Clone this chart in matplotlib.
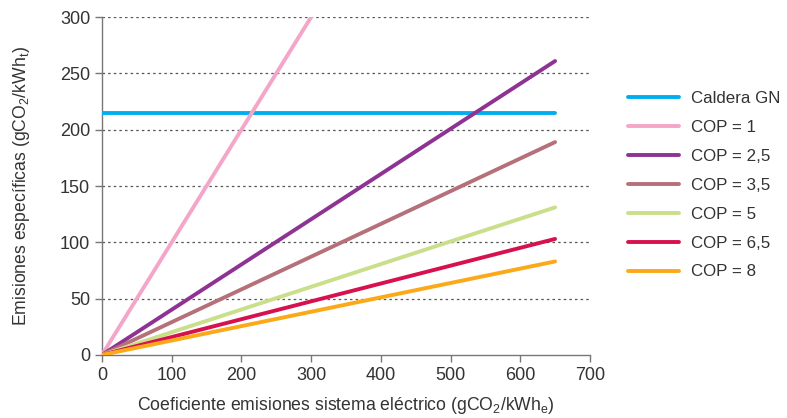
import matplotlib
matplotlib.use('Agg')
import matplotlib.pyplot as plt

# Data (x = electric grid emission factor)
x_start = 0
x_end = 650
caldera_gn = 215
series_labels = ['COP = 1', 'COP = 2,5', 'COP = 3,5', 'COP = 5', 'COP = 6,5', 'COP = 8']
series_x_end = [300, 650, 650, 650, 650, 650]
series_y_end = [300, 261, 189, 131, 103, 83]
series_colors = ['#F4A6C8', '#8E3393', '#B5707A', '#C9DF8A', '#D7104E', '#FBA919']

x_ticks = [0, 100, 200, 300, 400, 500, 600, 700]
y_ticks = [0, 50, 100, 150, 200, 250, 300]

plt.rcParams['font.family'] = ['Liberation Sans', 'DejaVu Sans']
plt.rcParams['mathtext.fontset'] = 'custom'
plt.rcParams['mathtext.rm'] = 'Liberation Sans'
plt.rcParams['mathtext.it'] = 'Liberation Sans'

fig = plt.figure(figsize=(7.87, 4.18), dpi=100)
ax = fig.add_axes([0.1296, 0.151, 0.62, 0.808])

for y in y_ticks[1:]:
    ax.axhline(y, color='#555555', linestyle=(0, (2, 2.5)), linewidth=0.9, zorder=1)

ax.plot([x_start, x_end], [caldera_gn, caldera_gn], color='#00AEEF',
        linewidth=2.8, label='Caldera GN', zorder=3, solid_capstyle='round')
for lab, xe, ye, col in zip(series_labels, series_x_end, series_y_end, series_colors):
    ax.plot([x_start, xe], [0, ye], color=col, linewidth=2.8, label=lab,
            zorder=3, solid_capstyle='round')

ax.set_xlim(0, 700)
ax.set_ylim(0, 300)
ax.set_xticks(x_ticks)
ax.set_yticks(y_ticks)
for side in ['top', 'right']:
    ax.spines[side].set_visible(False)
for side in ['left', 'bottom']:
    ax.spines[side].set_color('#777777')
    ax.spines[side].set_linewidth(1.0)
ax.tick_params(axis='both', colors='#777777', labelcolor='#333333',
               labelsize=13, length=5, width=1.0, direction='out')
ax.tick_params(axis='x', pad=4)

ax.set_xlabel(r'Coeficiente emisiones sistema eléctrico (gCO$_\mathrm{2}$/kWh$_\mathrm{e}$)',
              fontsize=12.7, color='#333333', labelpad=8)
ax.set_ylabel(r'Emisiones específicas (gCO$_\mathrm{2}$/kWh$_\mathrm{t}$)',
              fontsize=12.7, color='#333333', labelpad=20)

leg = ax.legend(loc='upper left', bbox_to_anchor=(1.064, 0.801), frameon=False,
                fontsize=12.2, handlelength=3.0, handletextpad=0.7,
                labelspacing=0.82, borderaxespad=0)
for t in leg.get_texts():
    t.set_color('#333333')

fig.savefig('out.png', dpi=100)
